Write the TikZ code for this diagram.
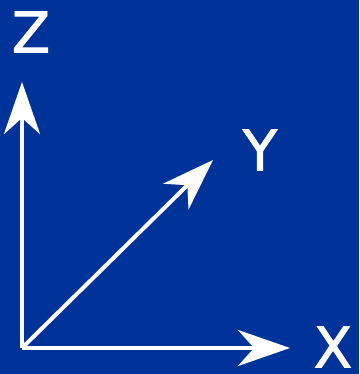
\documentclass[tikz,border=0pt]{standalone}
\usepackage{fontspec}
\newfontfamily\labfont[FakeBold=1.6]{DejaVu Sans}
\usetikzlibrary{arrows.meta}
\definecolor{bgblue}{RGB}{0,51,153}
\tikzset{
  axis/.style={draw=white, line width=4pt, -{Stealth[length=52pt, width=36pt, inset=16pt]}},
  axlabel/.style={text=white, font=\labfont\fontsize{56}{60}\selectfont, inner sep=0pt}
}
\begin{document}
\begin{tikzpicture}[x=1pt, y=-1pt]
\fill[bgblue] (0,0) rectangle (359,374);
\useasboundingbox (0,0) rectangle (359,374);
\coordinate (o) at (22,348);
\coordinate (zt) at (22,82);
\coordinate (yt) at (213,160);
\coordinate (xt) at (290,348);
\draw[axis] (o) -- (zt);
\draw[axis] (o) -- (yt);
\draw[axis] (o) -- (xt);
\node[axlabel] (zl) at (31,32) {Z};
\node[axlabel] (yl) at (260,150) {Y};
\node[axlabel] (xl) at (333,347) {X};
\end{tikzpicture}
\end{document}
